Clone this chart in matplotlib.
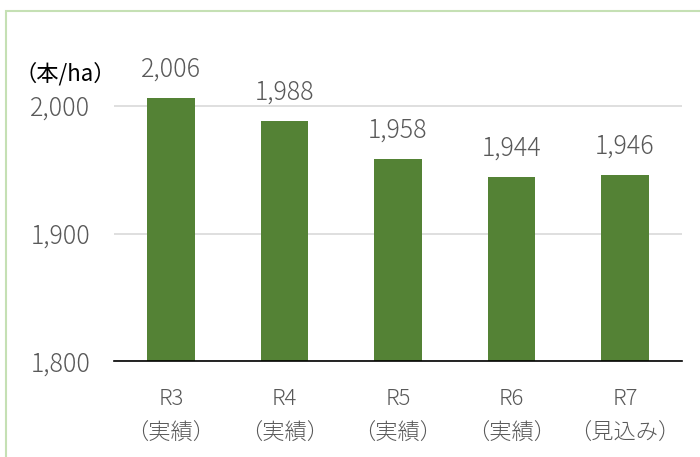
import matplotlib

matplotlib.use("Agg")
import matplotlib.pyplot as plt
import numpy as np
from matplotlib.patches import Rectangle

plt.rcParams["font.family"] = ["Noto Sans CJK JP", "DejaVu Sans"]

categories = ["R3\n（実績）", "R4\n（実績）", "R5\n（実績）", "R6\n（実績）", "R7\n（見込み）"]
values = [2006, 1988, 1958, 1944, 1946]
yticks = [1800, 1900, 2000]

TEXT = "#595959"
BAR = "#548235"

fig = plt.figure(figsize=(7, 4.57), dpi=100)
ax = fig.add_axes([0.163, 0.209, 0.811, 0.700])

x = np.arange(len(values))
ax.bar(x, values, width=0.42, color=BAR, zorder=3)
for xi, v in zip(x, values):
    ax.text(xi, v + 12, f"{v:,}", ha="center", va="bottom", fontsize=18,
            color=TEXT, fontweight="light")

ax.set_xlim(-0.5, len(values) - 0.5)
ax.set_ylim(1800, 2050)
ax.set_yticks(yticks)
ax.set_yticklabels([f"{t:,}" for t in yticks], fontsize=18, color=TEXT,
                   fontweight="light")
ax.set_xticks(x)
ax.set_xticklabels(categories, fontsize=16, color=TEXT, linespacing=1.75,
                   fontweight="light")
ax.tick_params(axis="both", length=0)
ax.tick_params(axis="y", pad=17)
ax.tick_params(axis="x", pad=19)
ax.grid(axis="y", color="#d9d9d9", linewidth=1.2, zorder=0)
for s in ["top", "right", "left"]:
    ax.spines[s].set_visible(False)
ax.spines["bottom"].set_color("black")
ax.spines["bottom"].set_linewidth(1.2)
ax.spines["bottom"].set_zorder(4)

fig.text(14 / 700, 1 - 74 / 457, "（本/ha）", fontsize=16, color="black",
         ha="left", va="center")

# light green frame (top and left edges visible)
fig.patches.append(Rectangle((6 / 700, -0.1), 1.2, 1 - 11 / 457 + 0.1,
                             transform=fig.transFigure, fill=False,
                             edgecolor="#c5e0b4", linewidth=1.5))

fig.savefig("out.png")
